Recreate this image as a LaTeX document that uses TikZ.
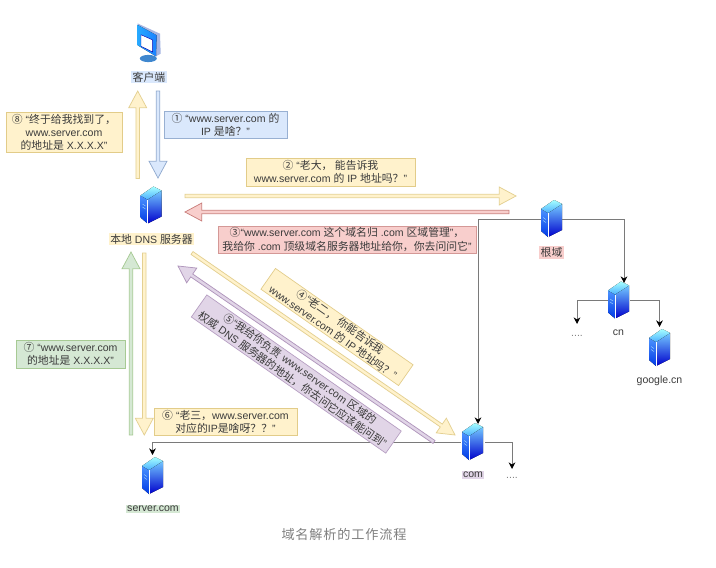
\documentclass[tikz,border=0pt]{standalone}
\usepackage{fontspec}
\setmainfont{Liberation Sans}
\newfontfamily\cjk[Scale=1.03]{Noto Sans CJK SC}
\usetikzlibrary{arrows.meta,calc}
\newcommand\cj[1]{{\cjk #1}}
\definecolor{yfill}{HTML}{FFF2CC}\definecolor{ydraw}{HTML}{D6B656}
\definecolor{bfill}{HTML}{DAE8FC}\definecolor{bdraw}{HTML}{6C8EBF}
\definecolor{rfill}{HTML}{F8CECC}\definecolor{rdraw}{HTML}{B85450}
\definecolor{gfill}{HTML}{D5E8D4}\definecolor{gdraw}{HTML}{82B366}
\definecolor{pfill}{HTML}{E1D5E7}\definecolor{pdraw}{HTML}{9673A6}
\definecolor{txt}{HTML}{3A3A3A}
\tikzset{
  msg/.style={inner sep=0pt,align=center,text=txt,line width=.5pt,
    font=\fontsize{7.9}{9.8}\selectfont},
  yb/.style={msg,fill=yfill,draw=ydraw!70},
  bb/.style={msg,fill=bfill,draw=bdraw!70},
  rb/.style={msg,fill=rfill,draw=rdraw!60},
  gb/.style={msg,fill=gfill,draw=gdraw!70},
  pb/.style={msg,fill=pfill,draw=pdraw!70},
  lab/.style={inner sep=1pt,text=txt,font=\fontsize{7.9}{9.8}\selectfont},
  srvbox/.style={inner sep=0pt,minimum width=15.75pt,minimum height=27.75pt},
  link/.style={draw=black!52,line width=.75pt,-{Stealth[color=black,length=5pt,width=5pt]}},
  blocky/.style={fill=yfill,draw=ydraw!65,line width=.55pt},
  blockb/.style={fill=bfill,draw=bdraw!75,line width=.55pt},
  blockr/.style={fill=rfill,draw=rdraw!75,line width=.55pt},
  blockg/.style={fill=gfill,draw=gdraw!70,line width=.55pt},
  blockp/.style={fill=pfill,draw=pdraw!75,line width=.55pt},
  server/.pic={
    \fill[top color=blue!60!cyan!70,bottom color=blue!75!cyan!90!black]
      (-10.5,-9.5) -- (-3.5,-5.5) -- (-3.5,18.5) -- (-10.5,12.5) -- cycle;
    \fill[top color=blue!40!cyan!55!white,bottom color=blue!80!black]
      (-3.5,-5.5) -- (10.5,-14.5) -- (10.5,11.5) -- (-3.5,18.5) -- cycle;
    \fill[top color=cyan!35,bottom color=cyan!55!blue!70]
      (-10.5,-9.5) -- (2.5,-18.5) -- (10.5,-14.5) -- (-3.5,-5.5) -- cycle;
    \draw[white,line width=.4pt] (-3.5,-5.5) -- (-3.5,18.5);
    \draw[white!70!cyan,line width=.3pt] (-8.5,-1) -- (-5.5,1) (-8.5,2) -- (-5.5,4);
  },
  monitor/.pic={
    \fill[cyan!55!blue!80] (-0.7,15.5) ellipse[x radius=8.5,y radius=3.6];
    \fill[cyan!40!blue!35!white] (-11.3,-19.5) -- (11,-9.3) -- (11.7,10.7) -- (7,13.3) -- (7.7,-7.7) -- (-11.3,-18) -- cycle;
    \fill[left color=cyan!60!blue!85,right color=blue!55!cyan!90] (-11.3,-18) -- (7.7,-7.7) -- (7,13.3) -- (-11.3,2.3) -- cycle;
    \fill[white] (-8,-8.3) -- (3.7,-3) -- (3.7,9) -- (-8,3.3) -- cycle;
    \draw[blue!70!black,line width=.35pt] (-8,-8.3) -- (3.7,-3) -- (3.7,9) -- (-8,3.3) -- cycle;
  },
}
% tail, tip, style
\newcommand\blockarrow[3]{%
  \coordinate (hb) at ($(#2)!12.5pt!(#1)$);
  \draw[#3,line join=miter]
    ($(#1)!1.3pt!90:(#2)$) -- ($(hb)!1.3pt!-90:(#1)$) -- ($(hb)!6.7pt!-90:(#1)$) --
    (#2) -- ($(hb)!6.7pt!90:(#1)$) -- ($(hb)!1.3pt!90:(#1)$) -- ($(#1)!1.3pt!-90:(#2)$) -- cycle;
}
\newcommand\srv[3]{\node[srvbox] (#1) at (#2,#3) {}; \pic at (#1) {server};}
\begin{document}
\begin{tikzpicture}[x=.75pt,y=-.75pt]
\useasboundingbox[fill=white] (0,0) rectangle (716,567);

% icons
\node[srvbox] (client) at (149,43) {}; \pic at (client) {monitor};
\srv{dns}{151}{205}
\srv{root}{551.5}{218.5}
\srv{cn}{618.5}{300}
\srv{google}{659.5}{347.5}
\srv{com}{472.5}{441.5}
\srv{srvcom}{152.5}{475.5}

% labels
\node[lab,fill=bfill] (lclient) at (149,77) {\cj{客户端}};
\node[lab,fill=yfill] (ldns) at (151.5,239) {\cj{本地} DNS \cj{服务器}};
\node[lab,fill=rfill] (lroot) at (551.5,252.5) {\cj{根域}};
\node[lab] (lcn) at (618.5,333) {cn};
\node[lab] (lgoogle) at (659.5,381) {google.cn};
\node[lab,fill=pfill] (lcom) at (473,475) {com};
\node[lab,fill=gfill] (lsrv) at (153,509) {server.com};
\node[lab,text=black!50,inner sep=0pt,minimum width=10pt,minimum height=8pt] (dots1) at (577,336) {....};
\node[lab,text=black!50,inner sep=0pt,minimum width=10pt,minimum height=8pt] (dots2) at (512,478) {....};
\node[inner sep=0pt,text=black!50,font=\fontsize{9.6}{12}\cjk] (caption) at (344,534.5)
  {\addfontfeatures{LetterSpace=6}域名解析的工作流程};

% tree connectors
\coordinate (rl) at ($(root.west)+(0,0.5)$);
\coordinate (rr) at ($(root.east)+(0,0.5)$);
\coordinate (comtop) at (478,424);
\coordinate (cntop) at (624,283);
\draw[link] (rl) -| (comtop);
\draw[link] (rr) -| (cntop);
\coordinate (cnl) at ($(cn.west)+(0,0)$);
\coordinate (cnr) at ($(cn.east)+(1,0)$);
\coordinate (dots1t) at (577,324);
\coordinate (googt) at (659.5,327);
\draw[link] (cnl) -| (dots1t);
\draw[link] (cnr) -| (googt);
\coordinate (coml) at ($(com.west)+(-1,0.5)$);
\coordinate (comr) at ($(com.east)+(2,0.5)$);
\coordinate (srvt) at (152.5,455);
\coordinate (dots2t) at (512,469);
\draw[link] (coml) -| (srvt);
\draw[link] (comr) -| (dots2t);

% block arrows
\coordinate (a1s) at (158,91);  \coordinate (a1e) at (158,178);
\coordinate (a8s) at (137.7,178.5); \coordinate (a8e) at (137.7,91);
\coordinate (a2s) at (185,196); \coordinate (a2e) at (516,196);
\coordinate (a3s) at (509,212); \coordinate (a3e) at (185,212);
\coordinate (a4s) at (192,253); \coordinate (a4e) at (455,435);
\coordinate (a5s) at (434,442); \coordinate (a5e) at (178,266);
\coordinate (a6s) at (144.3,253); \coordinate (a6e) at (144.3,435);
\coordinate (a7s) at (131,435); \coordinate (a7e) at (131,252);
\blockarrow{a1s}{a1e}{blockb}
\blockarrow{a8s}{a8e}{blocky}
\blockarrow{a2s}{a2e}{blocky}
\blockarrow{a3s}{a3e}{blockr}
\blockarrow{a4s}{a4e}{blocky}
\blockarrow{a5s}{a5e}{blockp}
\blockarrow{a6s}{a6e}{blocky}
\blockarrow{a7s}{a7e}{blockg}

% messages
\node[bb,minimum width=92.25pt,minimum height=20.25pt] (m1) at (225.5,124.5)
  {\cj{①} “www.server.com \cj{的}\\IP \cj{是啥？}”};
\node[yb,minimum width=87pt,minimum height=30pt] (m8) at (64,132)
  {\cj{⑧} “\cj{终于给我找到了，}\\www.server.com\\\cj{的地址是} X.X.X.X”};
\node[yb,minimum width=126.75pt,minimum height=21pt] (m2) at (330.5,172)
  {\cj{②} “\cj{老大， 能告诉我}\\www.server.com \cj{的} IP \cj{地址吗？}”};
\node[rb,minimum width=193.5pt,minimum height=20.25pt] (m3) at (347,239.5)
  {\cj{③}“www.server.com \cj{这个域名归} .com \cj{区域管理}”\cj{，}\\\cj{我给你} .com \cj{顶级域名服务器地址给你，你去问问它}”};
\node[yb,rotate=-35,minimum width=126pt,minimum height=19pt] (m4) at (337,327)
  {\cj{④}“\cj{老二， 你能告诉我}\\www.server.com \cj{的} IP \cj{地址吗？}”};
\node[pb,rotate=-35,minimum width=178pt,minimum height=20.25pt] (m5) at (296.3,374)
  {\cj{⑤}“\cj{我给你负责} www.server.com \cj{区域的}\\\cj{权威} DNS \cj{服务器的地址，你去问它应该能问到}”};
\node[yb,minimum width=107.25pt,minimum height=20.25pt] (m6) at (225.5,421.5)
  {\cj{⑥} “\cj{老三，}www.server.com\\\cj{对应的}IP\cj{是啥呀？？}”};
\node[gb,minimum width=81.75pt,minimum height=21pt] (m7) at (70.5,354)
  {\cj{⑦} “www.server.com\\\cj{的地址是} X.X.X.X”};
\end{tikzpicture}
\end{document}
